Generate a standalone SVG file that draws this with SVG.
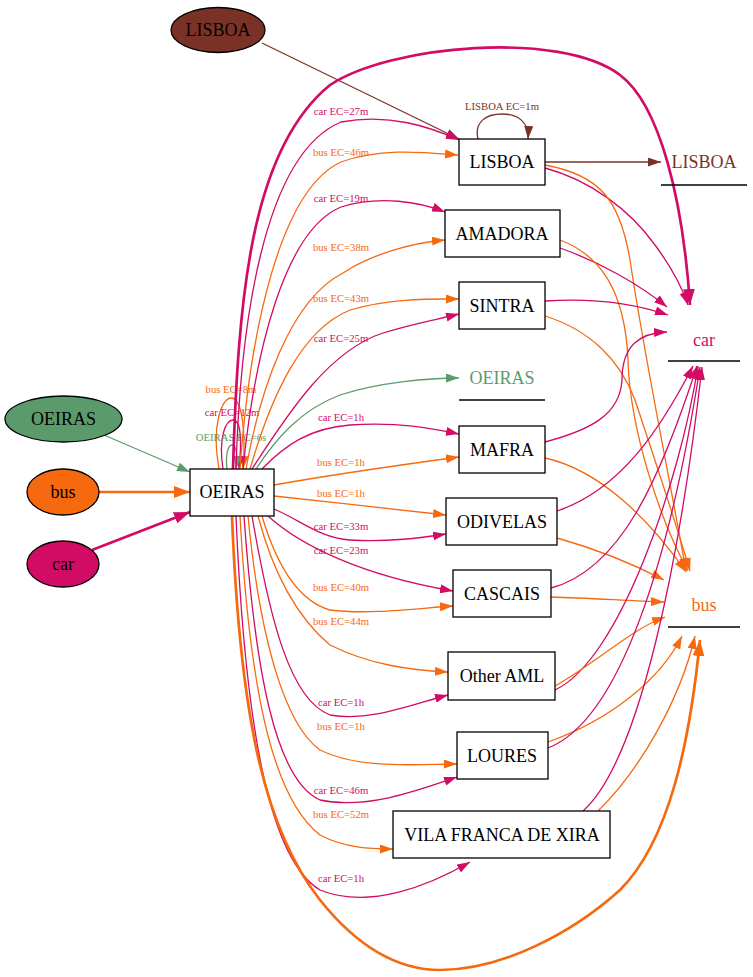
<svg xmlns="http://www.w3.org/2000/svg" width="753" height="977" viewBox="0 0 753 977">
<style>
.box{fill:#fff;stroke:#000;stroke-width:1.3}
.ul{stroke:#000;stroke-width:1.3}
.t{font-family:"Liberation Serif","Times New Roman",serif;font-size:18px;text-anchor:middle}
.l{font-family:"Liberation Serif","Times New Roman",serif;font-size:10.7px;text-anchor:middle}
.e{fill:none;stroke-width:1.3}
.thick{stroke-width:2.7}
.car{stroke:#d20b65}
.bus{stroke:#f6690f}
.grn{stroke:#5b9b6b}
.brn{stroke:#7b3226}
.lc{fill:#d20b65}
.lb{fill:#f6690f}
.lg{fill:#5b9b6b}
.lr{fill:#7b3226}
</style>
<defs>
<marker id="aC" markerUnits="userSpaceOnUse" viewBox="0 0 13 9" markerWidth="13" markerHeight="9" refX="13" refY="4.5" orient="auto"><path d="M0,0 L13,4.5 L0,9 z" fill="#d20b65"/></marker>
<marker id="aB" markerUnits="userSpaceOnUse" viewBox="0 0 13 9" markerWidth="13" markerHeight="9" refX="13" refY="4.5" orient="auto"><path d="M0,0 L13,4.5 L0,9 z" fill="#f6690f"/></marker>
<marker id="aG" markerUnits="userSpaceOnUse" viewBox="0 0 13 9" markerWidth="13" markerHeight="9" refX="13" refY="4.5" orient="auto"><path d="M0,0 L13,4.5 L0,9 z" fill="#5b9b6b"/></marker>
<marker id="aR" markerUnits="userSpaceOnUse" viewBox="0 0 13 9" markerWidth="13" markerHeight="9" refX="13" refY="4.5" orient="auto"><path d="M0,0 L13,4.5 L0,9 z" fill="#7b3226"/></marker>
<marker id="aCT" markerUnits="userSpaceOnUse" viewBox="0 0 16 12" markerWidth="16" markerHeight="12" refX="16" refY="6" orient="auto"><path d="M0,0 L16,6 L0,12 z" fill="#d20b65"/></marker>
<marker id="aBT" markerUnits="userSpaceOnUse" viewBox="0 0 16 12" markerWidth="16" markerHeight="12" refX="16" refY="6" orient="auto"><path d="M0,0 L16,6 L0,12 z" fill="#f6690f"/></marker>
</defs>

<g id="connectors">
<path class="e brn" marker-end="url(#aR)" d="M262,43 L459,139"/>
<path class="e grn" marker-end="url(#aG)" d="M104,435 L190,472"/>
<path class="e bus thick" marker-end="url(#aBT)" d="M99,492 L190,492"/>
<path class="e car thick" marker-end="url(#aCT)" d="M92,550 L190,512"/>
<path class="e brn" marker-end="url(#aR)" d="M478,139 C474,122 486,114 502,114 C518,114 529,122 528,139"/>
<text class="l lr" x="502" y="110">LISBOA EC=1m</text>
<path class="e bus" marker-end="url(#aB)" d="M219,469 C211,425 222,398 231,398 C242,398 246,430 243,469"/>
<path class="e car" marker-end="url(#aC)" d="M223,469 C218,437 226,420 233,420 C241,420 242,440 239,469"/>
<path class="e grn" marker-end="url(#aG)" d="M227,469 C225,452 229,445 232,445 C236,445 238,455 236,469"/>
<text class="l lb" x="231" y="393">bus EC=8m</text>
<text class="l lc" x="232" y="416">car EC=12m</text>
<text class="l lg" x="231" y="441">OEIRAS EC=6s</text>
<path class="e car" marker-end="url(#aC)" d="M236,469 C240,330 262,155 341,122 C390,113 430,127 459,140"/>
<text class="l lc" x="341" y="115">car EC=27m</text>
<path class="e bus" marker-end="url(#aB)" d="M240,469 C250,330 280,190 341,162 C380,148 420,152 458,155"/>
<text class="l lb" x="341" y="156">bus EC=46m</text>
<path class="e car" marker-end="url(#aC)" d="M243,469 C255,350 285,230 341,207 C380,195 420,202 445,212"/>
<text class="l lc" x="341" y="202">car EC=19m</text>
<path class="e bus" marker-end="url(#aB)" d="M246,469 C260,390 290,300 343,273 C370,255 410,243 445,240"/>
<text class="l lb" x="341" y="251">bus EC=38m</text>
<path class="e bus" marker-end="url(#aB)" d="M250,469 C270,400 300,330 350,310 C390,298 430,299 459,299"/>
<text class="l lb" x="341" y="302">bus EC=43m</text>
<path class="e car" marker-end="url(#aC)" d="M252,469 C290,410 330,350 383,333 C415,323 435,320 459,314"/>
<text class="l lc" x="341" y="342">car EC=25m</text>
<path class="e grn" marker-end="url(#aG)" d="M256,469 C275,440 300,410 340,395 C380,382 430,378 459,378"/>
<path class="e car" marker-end="url(#aC)" d="M262,469 C285,445 310,428 350,425 C400,422 430,428 459,434"/>
<text class="l lc" x="341" y="421">car EC=1h</text>
<path class="e bus" marker-end="url(#aB)" d="M274,485 C330,475 400,465 459,457"/>
<text class="l lb" x="341" y="466">bus EC=1h</text>
<path class="e bus" marker-end="url(#aB)" d="M274,496 C330,502 400,510 446,515"/>
<text class="l lb" x="341" y="497">bus EC=1h</text>
<path class="e car" marker-end="url(#aC)" d="M274,509 C300,520 320,538 350,540 C390,542 420,538 446,534"/>
<text class="l lc" x="341" y="530">car EC=33m</text>
<path class="e car" marker-end="url(#aC)" d="M268,516 C300,545 360,575 453,591"/>
<text class="l lc" x="341" y="554">car EC=23m</text>
<path class="e bus" marker-end="url(#aB)" d="M262,516 C275,560 295,600 330,610 C370,615 420,608 453,606"/>
<text class="l lb" x="341" y="591">bus EC=40m</text>
<path class="e bus" marker-end="url(#aB)" d="M258,516 C275,580 300,620 330,645 C370,665 410,670 448,672"/>
<text class="l lb" x="341" y="625">bus EC=44m</text>
<path class="e car" marker-end="url(#aC)" d="M252,516 C270,620 290,700 330,715 C370,722 410,705 448,695"/>
<text class="l lc" x="341" y="706">car EC=1h</text>
<path class="e bus" marker-end="url(#aB)" d="M248,516 C260,640 285,725 320,750 C360,770 420,764 457,764"/>
<text class="l lb" x="341" y="730">bus EC=1h</text>
<path class="e car" marker-end="url(#aC)" d="M244,516 C255,670 275,780 320,800 C365,810 420,790 457,777"/>
<text class="l lc" x="341" y="794">car EC=46m</text>
<path class="e bus" marker-end="url(#aB)" d="M240,516 C250,700 275,800 320,835 C345,848 370,849 393,849"/>
<text class="l lb" x="341" y="818">bus EC=52m</text>
<path class="e car" marker-end="url(#aC)" d="M236,516 C245,730 270,860 320,890 C370,910 430,885 470,862"/>
<text class="l lc" x="341" y="882">car EC=1h</text>
<path class="e car thick" marker-end="url(#aCT)" d="M233,469 C238,300 250,150 330,85 C390,45 560,30 620,75 C660,105 683,200 690,305"/>
<path class="e bus thick" marker-end="url(#aBT)" d="M232,516 C240,720 265,830 320,900 C360,950 400,970 440,970 C500,970 570,935 620,890 C670,840 690,740 700,640"/>
<path class="e brn" marker-end="url(#aR)" d="M545,162 L661,162"/>
<path class="e car" marker-end="url(#aC)" d="M545,168 C590,180 630,210 655,245 C675,272 683,290 688,305"/>
<path class="e bus" marker-end="url(#aB)" d="M545,165 C600,175 620,200 630,260 C645,360 670,480 686,571"/>
<path class="e car" marker-end="url(#aC)" d="M560,248 C600,262 640,285 667,307"/>
<path class="e bus" marker-end="url(#aB)" d="M560,240 C600,255 625,290 628,360 C630,430 660,520 688,571"/>
<path class="e car" marker-end="url(#aC)" d="M545,301 C590,298 630,302 668,315"/>
<path class="e bus" marker-end="url(#aB)" d="M545,316 C590,330 620,360 635,400 C655,460 675,520 690,571"/>
<path class="e car" marker-end="url(#aC)" d="M545,442 C590,430 620,415 622,380 C622,345 640,333 667,332"/>
<path class="e bus" marker-end="url(#aB)" d="M545,458 C600,470 650,520 686,572"/>
<path class="e car" marker-end="url(#aC)" d="M557,511 C620,490 660,430 693,366"/>
<path class="e bus" marker-end="url(#aB)" d="M557,538 C600,550 635,565 664,580"/>
<path class="e car" marker-end="url(#aC)" d="M551,588 C620,570 660,480 697,366"/>
<path class="e bus" marker-end="url(#aB)" d="M551,597 C590,598 630,601 664,602"/>
<path class="e car" marker-end="url(#aC)" d="M555,690 C620,660 680,480 698,366"/>
<path class="e bus" marker-end="url(#aB)" d="M555,686 C600,660 630,630 665,617"/>
<path class="e bus" marker-end="url(#aB)" d="M548,742 C610,720 660,680 682,636"/>
<path class="e car" marker-end="url(#aC)" d="M548,748 C620,720 670,560 700,367"/>
<path class="e car" marker-end="url(#aC)" d="M583,811 C640,760 680,560 702,367"/>
<path class="e bus" marker-end="url(#aB)" d="M598,811 C640,770 680,700 695,636"/>
</g>

<g id="src-lisboa"><ellipse cx="218" cy="30" rx="47" ry="22.5" fill="#7b3226" stroke="#000" stroke-width="1.3"/><text class="t" x="218" y="36">LISBOA</text></g>
<g id="src-oeiras"><ellipse cx="63.5" cy="419" rx="58.5" ry="23" fill="#5b9b6b" stroke="#000" stroke-width="1.3"/><text class="t" x="63.5" y="425">OEIRAS</text></g>
<g id="src-bus"><ellipse cx="63" cy="492" rx="36" ry="23" fill="#f6690f" stroke="#000" stroke-width="1.3"/><text class="t" x="63" y="498">bus</text></g>
<g id="src-car"><ellipse cx="63" cy="564" rx="36" ry="23" fill="#d20b65" stroke="#000" stroke-width="1.3"/><text class="t" x="63" y="570">car</text></g>

<g id="oeiras"><rect class="box" x="190" y="469" width="84" height="47"/><text class="t" x="232" y="498">OEIRAS</text></g>
<g id="lisboa"><rect class="box" x="459" y="139" width="86" height="46"/><text class="t" x="502" y="168">LISBOA</text></g>
<g id="amadora"><rect class="box" x="445" y="210" width="115" height="47"/><text class="t" x="502" y="240">AMADORA</text></g>
<g id="sintra"><rect class="box" x="459" y="282" width="86" height="47"/><text class="t" x="502" y="312">SINTRA</text></g>
<g id="oeiras-out"><text class="t lg" x="502" y="384">OEIRAS</text><line class="ul" x1="459" y1="400" x2="545" y2="400"/></g>
<g id="mafra"><rect class="box" x="459" y="426" width="86" height="47"/><text class="t" x="502" y="456">MAFRA</text></g>
<g id="odivelas"><rect class="box" x="446" y="498" width="111" height="47"/><text class="t" x="502" y="528">ODIVELAS</text></g>
<g id="cascais"><rect class="box" x="453" y="570" width="98" height="47"/><text class="t" x="502" y="600">CASCAIS</text></g>
<g id="other-aml"><rect class="box" x="448" y="652" width="107" height="48"/><text class="t" x="502" y="682">Other AML</text></g>
<g id="loures"><rect class="box" x="457" y="732" width="91" height="47"/><text class="t" x="502" y="762">LOURES</text></g>
<g id="vila-franca"><rect class="box" x="393" y="811" width="217" height="47"/><text class="t" x="502" y="841">VILA FRANCA DE XIRA</text></g>

<g id="lisboa-out"><text class="t lr" x="704" y="168">LISBOA</text><line class="ul" x1="661" y1="185" x2="747" y2="185"/></g>
<g id="car-out"><text class="t lc" x="704" y="346">car</text><line class="ul" x1="668" y1="361" x2="740" y2="361"/></g>
<g id="bus-out"><text class="t lb" x="704" y="611">bus</text><line class="ul" x1="668" y1="627" x2="740" y2="627"/></g>
</svg>
